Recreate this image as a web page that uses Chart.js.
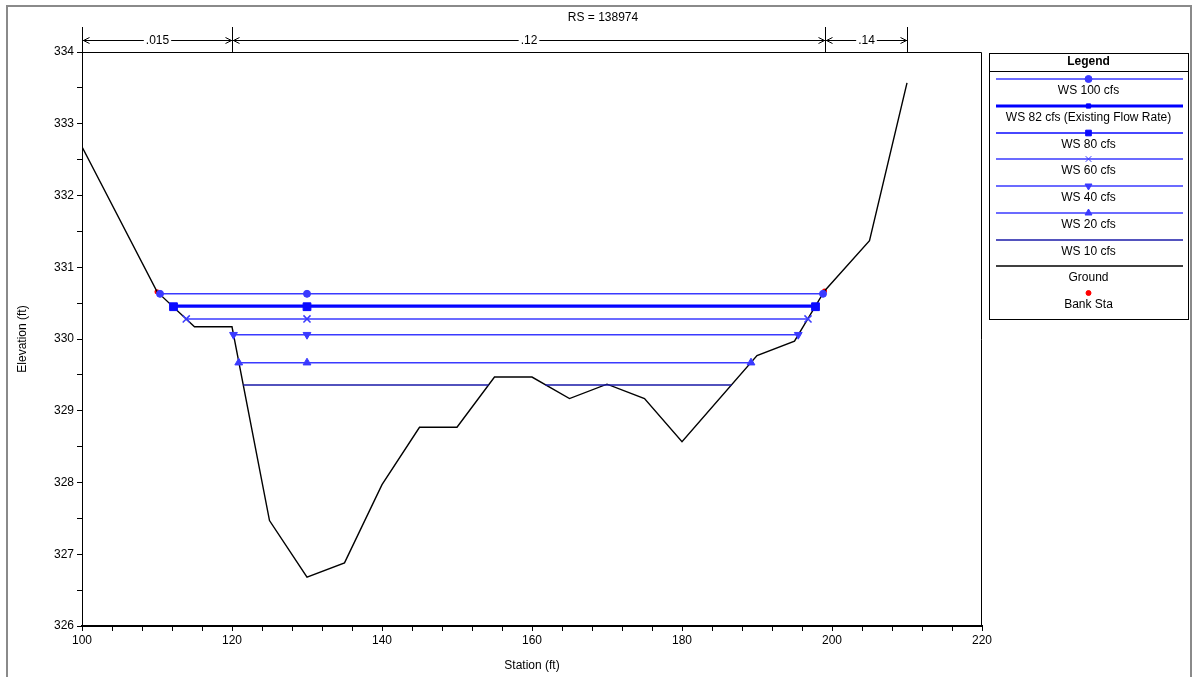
<!DOCTYPE html>
<html>
<head>
<meta charset="utf-8">
<script src="https://cdn.jsdelivr.net/npm/chart.js@4"></script>
<style>
  html, body { margin: 0; padding: 0; background: #fff; }
  canvas { display: block; }
</style>
</head>
<body>
<canvas id="myChart" width="1196" height="677"></canvas>
<script>
// ground profile (station ft, elevation ft)
const groundStations = [100, 110, 115, 120, 125, 130, 135, 140, 145, 150, 155, 160, 165, 170, 175, 180, 190, 195, 199, 205, 210];
const groundElevations = [332.68, 330.66, 330.17, 330.17, 327.47, 326.68, 326.88, 327.97, 328.77, 328.77, 329.47, 329.47, 329.17, 329.37, 329.17, 328.57, 329.77, 329.97, 330.67, 331.37, 333.57];

const bankStations = [110, 199];
const bankElevations = [330.66, 330.67];

// water surfaces
const wsLabels = ["WS 100 cfs", "WS 82 cfs (Existing Flow Rate)", "WS 80 cfs", "WS 60 cfs", "WS 40 cfs", "WS 20 cfs", "WS 10 cfs"];
const wsElevations = [330.63, 330.46, 330.45, 330.28, 330.06, 329.67, 329.36];
const wsLeft = [110.4, 112.1, 112.2, 113.9, 120.2, 120.9, 121.5];
const wsRight = [198.8, 197.8, 197.8, 196.8, 195.5, 189.2, 186.6];
const wsMarkerStation = 130;
// WS 10 is broken where the ground bump sticks out of it
const ws10Gap = [154.2, 161.8];

// manning n values along the top
const nStations = [100, 120, 199, 210];
const nValues = [".015", ".12", ".14"];

const xTicks = { min: 100, max: 220, step: 4, labelEvery: 20 };
const yTicks = { min: 326, max: 334, step: 0.5 };

const FONT = "'Liberation Sans', Arial, sans-serif";

const wsStyles = [
  { color: "#3a3aff", width: 1.5, point: "circle", radius: 3.5, rotation: 0 },
  { color: "#0000ff", width: 3, point: "rect", radius: 3, rotation: 0 },
  { color: "#0a0aff", width: 1.5, point: "rect", radius: 5.5, rotation: 0 },
  { color: "#3a3aff", width: 1.5, point: "crossRot", radius: 5, rotation: 0 },
  { color: "#3a3aff", width: 1.5, point: "triangle", radius: 4.5, rotation: 180 },
  { color: "#3a3aff", width: 1.5, point: "triangle", radius: 4.5, rotation: 0 },
  { color: "#1a1aa8", width: 1.5, point: "circle", radius: 0, rotation: 0 },
];

const datasets = wsLabels.map((label, i) => {
  const y = wsElevations[i];
  let data;
  if (i === 6) {
    data = [
      { x: wsLeft[i], y: y },
      { x: ws10Gap[0], y: y },
      { x: (ws10Gap[0] + ws10Gap[1]) / 2, y: null },
      { x: ws10Gap[1], y: y },
      { x: wsRight[i], y: y },
    ];
  } else {
    data = [
      { x: wsLeft[i], y: y },
      { x: wsMarkerStation, y: y },
      { x: wsRight[i], y: y },
    ];
  }
  const s = wsStyles[i];
  return {
    label: label,
    data: data,
    showLine: true,
    spanGaps: false,
    borderColor: s.color,
    backgroundColor: s.color,
    borderWidth: s.width,
    pointStyle: s.point,
    pointRadius: s.radius,
    pointRotation: s.rotation,
    pointBorderWidth: s.point === "crossRot" ? 1.5 : 1,
    order: i === 2 ? -1 : i,
  };
});

datasets.push({
  label: "Ground",
  data: groundStations.map((x, i) => ({ x: x, y: groundElevations[i] })),
  showLine: true,
  borderColor: "#000",
  backgroundColor: "#000",
  borderWidth: 1.4,
  pointRadius: 0,
  order: 7,
});

datasets.push({
  label: "Bank Sta",
  data: bankStations.map((x, i) => ({ x: x, y: bankElevations[i] })),
  showLine: false,
  borderColor: "#ff0000",
  backgroundColor: "#ff0000",
  pointStyle: "circle",
  pointRadius: 2.5,
  pointBorderWidth: 0,
  order: 8,
});

// frame, n-value arrows and the boxed legend
const decorPlugin = {
  id: "decor",
  beforeDraw(chart) {
    const ctx = chart.ctx;
    ctx.save();
    ctx.fillStyle = "#fff";
    ctx.fillRect(0, 0, chart.width, chart.height);
    ctx.strokeStyle = "#8a8a8a";
    ctx.lineWidth = 2;
    ctx.strokeRect(7, 6, 1184, 700);
    ctx.restore();
  },
  afterDraw(chart) {
    const ctx = chart.ctx;
    const area = chart.chartArea;
    const xs = chart.scales.x;
    ctx.save();

    // plot frame
    ctx.strokeStyle = "#000";
    ctx.lineWidth = 1;
    ctx.beginPath();
    ctx.moveTo(area.left + 0.5, area.bottom);
    ctx.lineTo(area.left + 0.5, area.top + 0.5);
    ctx.lineTo(area.right - 0.5, area.top + 0.5);
    ctx.lineTo(area.right - 0.5, area.bottom);
    ctx.stroke();

    // n values
    const arrowY = 40.5;
    ctx.font = "12px " + FONT;
    ctx.fillStyle = "#000";
    ctx.textAlign = "center";
    ctx.textBaseline = "middle";
    nStations.forEach((st) => {
      const px = Math.round(xs.getPixelForValue(st)) + 0.5;
      ctx.beginPath();
      ctx.moveTo(px, 27);
      ctx.lineTo(px, area.top);
      ctx.stroke();
    });
    for (let i = 0; i < nValues.length; i++) {
      const x1 = Math.round(xs.getPixelForValue(nStations[i])) + 0.5;
      const x2 = Math.round(xs.getPixelForValue(nStations[i + 1])) + 0.5;
      const mid = (x1 + x2) / 2;
      const w = ctx.measureText(nValues[i]).width;
      ctx.beginPath();
      ctx.moveTo(x1, arrowY);
      ctx.lineTo(mid - w / 2 - 2, arrowY);
      ctx.moveTo(mid + w / 2 + 2, arrowY);
      ctx.lineTo(x2, arrowY);
      // arrow heads
      ctx.moveTo(x1 + 7, arrowY - 3);
      ctx.lineTo(x1 + 1, arrowY);
      ctx.lineTo(x1 + 7, arrowY + 3);
      ctx.moveTo(x2 - 7, arrowY - 3);
      ctx.lineTo(x2 - 1, arrowY);
      ctx.lineTo(x2 - 7, arrowY + 3);
      ctx.stroke();
      ctx.fillText(nValues[i], mid, arrowY);
    }

    // legend box
    const lx = 989, ly = 53, lw = 199, lh = 266;
    ctx.strokeStyle = "#000";
    ctx.lineWidth = 1;
    ctx.strokeRect(lx + 0.5, ly + 0.5, lw, lh);
    ctx.beginPath();
    ctx.moveTo(lx, 71.5);
    ctx.lineTo(lx + lw, 71.5);
    ctx.stroke();
    ctx.font = "bold 12px " + FONT;
    ctx.fillText("Legend", lx + lw / 2, 62);
    ctx.font = "12px " + FONT;

    const cx = lx + lw / 2;
    chart.data.datasets.forEach((ds, i) => {
      const yLine = Math.round(79 + i * 26.75);
      ctx.strokeStyle = ds.borderColor;
      ctx.fillStyle = ds.backgroundColor;
      if (ds.showLine) {
        ctx.lineWidth = ds.borderWidth;
        ctx.beginPath();
        ctx.moveTo(lx + 7, yLine);
        ctx.lineTo(lx + lw - 5, yLine);
        ctx.stroke();
      }
      if (ds.pointRadius > 0) {
        ctx.lineWidth = 1;
        Chart.helpers.drawPoint(ctx, {
          pointStyle: ds.pointStyle,
          radius: ds.label === "Bank Sta" ? 2.5 : Math.min(ds.pointRadius, 4),
          rotation: ds.pointRotation || 0,
          borderWidth: 1,
        }, cx, yLine);
      }
      ctx.fillStyle = "#000";
      ctx.fillText(ds.label, cx, yLine + 12);
    });
    ctx.restore();
  },
};

const ctx = document.getElementById("myChart").getContext("2d");
const myChart = new Chart(ctx, {
  type: "scatter",
  data: { datasets: datasets },
  plugins: [decorPlugin],
  options: {
    responsive: false,
    animation: false,
    events: [],
    layout: { padding: { left: 10, right: 0, top: 0, bottom: 0 } },
    plugins: {
      legend: { display: false },
      tooltip: { enabled: false },
      title: {
        display: true,
        text: "RS = 138974",
        color: "#000",
        font: { family: FONT, size: 12, weight: "normal" },
        padding: { top: 10, bottom: 27.6 },
      },
    },
    scales: {
      x: {
        type: "linear",
        min: xTicks.min,
        max: xTicks.max,
        afterFit: (s) => { s.height = 51; },
        ticks: {
          stepSize: xTicks.step,
          autoSkip: false,
          maxRotation: 0,
          color: "#000",
          font: { family: FONT, size: 12 },
          padding: 2,
          callback: (v) => (v % xTicks.labelEvery === 0 ? v : ""),
        },
        grid: { drawOnChartArea: false, tickLength: 5, color: "#000" },
        border: { display: true, color: "#000", width: 2 },
        title: {
          display: true,
          text: "Station (ft)",
          color: "#000",
          font: { family: FONT, size: 12 },
          padding: { top: 4, bottom: 4 },
        },
      },
      y: {
        type: "linear",
        min: yTicks.min,
        max: yTicks.max,
        afterFit: (s) => { s.width = 72; },
        ticks: {
          stepSize: yTicks.step,
          autoSkip: false,
          color: "#000",
          font: { family: FONT, size: 12 },
          padding: 3,
          callback: (v) => (Number.isInteger(v) ? v : ""),
        },
        grid: { drawOnChartArea: false, tickLength: 5, color: "#000" },
        border: { display: true, color: "#000", width: 1 },
        title: {
          display: true,
          text: "Elevation (ft)",
          color: "#000",
          font: { family: FONT, size: 12 },
          padding: { top: 5, bottom: 4 },
        },
      },
      // empty axis that reserves the space for the legend box
      yLegend: {
        type: "linear",
        position: "right",
        min: yTicks.min,
        max: yTicks.max,
        afterFit: (s) => { s.width = 214; },
        ticks: { display: false },
        grid: { display: false },
        border: { display: false },
      },
    },
  },
});
</script>
</body>
</html>
